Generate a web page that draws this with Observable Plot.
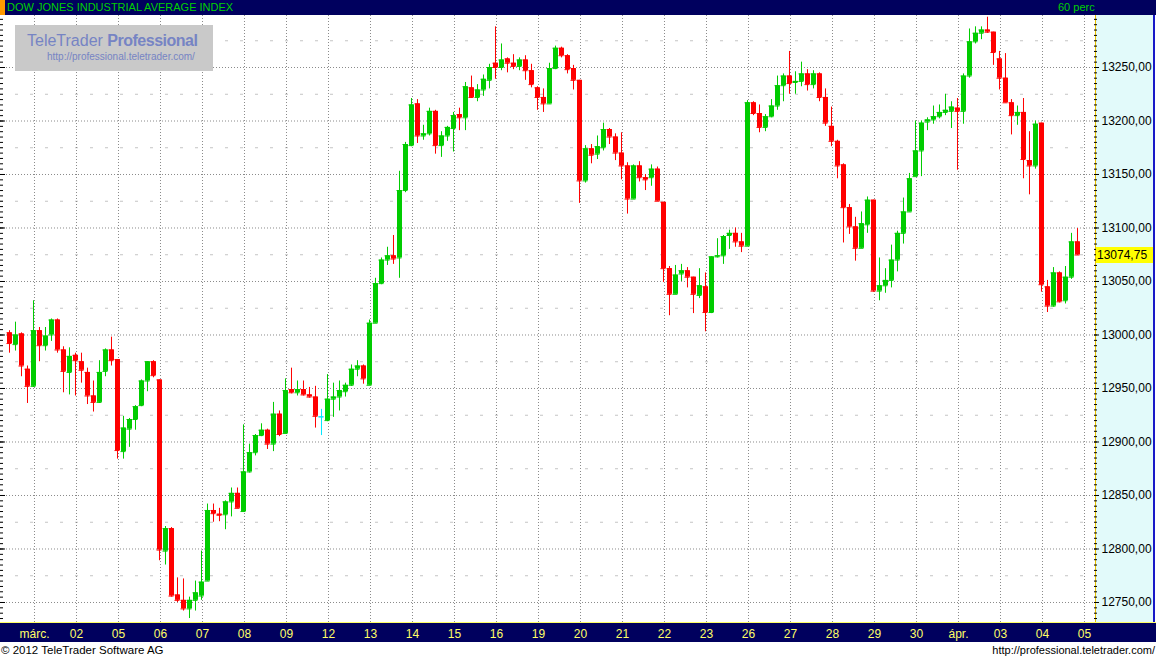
<!DOCTYPE html>
<html>
<head>
<meta charset="utf-8">
<script src="https://cdn.jsdelivr.net/npm/d3@7"></script>
<script src="https://cdn.jsdelivr.net/npm/@observablehq/plot@0.6"></script>
<style>
html, body { margin: 0; padding: 0; background: #ffffff; }
#wrap { position: relative; width: 1156px; height: 659px; overflow: hidden; font-family: "Liberation Sans", Arial, sans-serif; }
#topbar { position: absolute; left: 0; top: 0; width: 1156px; height: 15px; background: #00005e; }
#orange { position: absolute; left: 0; top: 0; width: 5px; height: 15px; background: #ff9900; }
#title { position: absolute; left: 7px; top: 1px; font-size: 11px; line-height: 13px; color: #00d000; white-space: nowrap; }
#period { position: absolute; left: 1058px; top: 1px; font-size: 11px; line-height: 13px; color: #00d000; white-space: nowrap; }
#panel { position: absolute; left: 1095px; top: 15px; width: 57px; height: 607px; background: #e2fafa; border-left: 1px solid #e8c000; border-right: 2px solid #1818c8; }
#band { position: absolute; left: 0; top: 622px; width: 1156px; height: 20px; background: #00005e; border-top: 1px solid #ffff66; box-sizing: border-box; }
#chart { position: absolute; left: 0; top: 15px; }
#logo { position: absolute; left: 15px; top: 25px; width: 198px; height: 46px; background: #c9c9c9; color: #7684c4; z-index: 5; }
#logo .l1 { position: absolute; left: 12px; top: 6px; font-size: 16px; line-height: 19px; white-space: nowrap; }
#logo .l1 b { font-weight: bold; letter-spacing: -0.5px; }
#logo .l2 { position: absolute; left: 32px; top: 26px; font-size: 10px; line-height: 12px; white-space: nowrap; }
#fl { position: absolute; left: 1px; top: 643px; font-size: 11.5px; line-height: 14px; color: #000; white-space: nowrap; }
#fr { position: absolute; right: 1px; top: 643px; font-size: 11px; line-height: 14px; color: #000; white-space: nowrap; }
</style>
</head>
<body>
<div id="wrap">
  <div id="topbar"></div>
  <div id="orange"></div>
  <div id="title">DOW JONES INDUSTRIAL AVERAGE INDEX</div>
  <div id="period">60 perc</div>
  <div id="panel"></div>
  <div id="band"></div>
  <div id="chart"></div>
  <div id="logo"><div class="l1">TeleTrader <b>Professional</b></div><div class="l2">http://professional.teletrader.com/</div></div>
  <div id="fl">© 2012 TeleTrader Software AG</div>
  <div id="fr">http://professional.teletrader.com/</div>
</div>
<script>
// ---- Data: hourly bars (Dow Jones Industrial Average) ----
const open = [
13002,12991,13001,12968,12952, 13004,12990,13000,13014,12986,12965,12981,
12975,12965,12943,12937,12966,12986,12977, 12891,12912,12921,12934,12957,12975,12958,
12798,12819,12757,12752,12744,12752,12756, 12770,12836,12832.5,12832,12844,12852,12835,
12872,12890,12906,12911,12898,12926,12908, 12949,12946,12949,12944,12942,12923.5,12920,
12940,12942,12947,12953,12968,12971,12953, 13011,13048,13070,13074,13072,13135,13177,
13216,13186,13188,13209,13177,13186,13193, 13206,13203,13231,13222,13229,13238,13254,
13250,13258,13254,13251,13257,13247,13231, 13222,13216,13249,13268,13261,13249,13238,
13144,13174,13169,13175,13192,13185,13170, 13158,13127,13158,13147,13147,13155,13124,
13062,13038,13057,13060,13054,13037,13045, 13021,13073,13074,13093,13095,13087,13083,
13217,13207,13194,13204,13214,13233,13242, 13236,13237,13244,13234,13244,13222,13195,
13181,13159,13119,13101,13081,13103,13126, 13041,13046,13051,13070,13095,13115,13148,
13172,13199,13201,13204,13208,13209,13212, 13209,13242,13274,13282,13285,13283,13258,
13240,13217,13205,13208,13163,13158,13198, 13045,13027,13058,13032,13054,13087
];
const high = [
13004,13012,13002,12971,13032, 13007,13007,13015,13015,12989,12988,12983,
12983,12969,12957,12976,12987,12998,12977, 12924,12922,12934,12958,12975,12976,12958,
12821,12820,12773,12772,12755,12770,12798, 12842,12842,12838,12845,12857,12857,12916,
12898,12907,12917,12912,12937,12929,12959, 12969,12957,12957,12951,12952,12930.5,12963,
12955,12957,12955,12972,12976,12972,13014, 13053,13072,13082,13093,13153,13180,13221,
13220,13196,13212,13210,13190,13195,13208, 13212,13236,13242,13234,13243,13253,13288,
13272,13259,13262,13259,13261,13253,13232, 13230,13254,13270,13269,13262,13252,13238,
13177,13178,13186,13198,13193,13188,13189, 13161,13159,13162,13150,13159,13157,13124,
13064,13065,13066,13063,13054,13062,13058, 13073,13090,13093,13098,13100,13095,13219,
13218,13215,13206,13220,13242,13244,13265, 13246,13255,13248,13247,13245,13230,13213,
13182,13160,13122,13110,13115,13129,13126, 13072,13062,13084,13097,13128,13151,13200,
13200,13203,13214,13215,13225,13218,13221, 13244,13286,13288,13288,13297,13283,13265,
13263,13220,13214,13221,13190,13200,13198, 13051,13063,13059,13064,13095,13099.5
];
const low = [
12983,12985,12961,12936,12951, 12975,12985,12994,12983,12946,12944,12943,
12955,12935,12928,12936,12961,12971,12884, 12884,12895,12911,12933,12947,12960,12789,
12785,12755,12750,12742,12735,12742,12752, 12770,12825,12825.5,12818,12830,12838,12835,
12871,12887,12905,12893,12891,12905,12908, 12945,12943,12943,12941,12913,12906,12919,
12923,12929,12942,12952,12961,12954,12953, 13011,13047,13065,13066,13053,13133,13176,
13179,13182,13186,13169,13166,13181,13171, 13191,13191,13221,13218,13223,13230,13239,
13247,13245,13248,13247,13238,13231,13210, 13208,13216,13248,13259,13244,13229,13123,
13142,13160,13164,13172,13178,13163,13145, 13113,13127,13143,13135,13139,13125,13049,
13018,13038,13050,13044,13020,13034,13003, 13020,13072,13066,13080,13082,13077,13083,
13205,13189,13190,13203,13210,13218,13225, 13225,13232,13228,13230,13218,13195,13176,
13146,13086,13094,13069,13081,13095,13040, 13032,13039,13044,13059,13085,13115,13148,
13148,13191,13197,13202,13205,13193,13154, 13197,13240,13272,13276,13282,13252,13229,
13217,13187,13196,13146,13131,13155,13040, 13021,13026,13030,13029,13052,13074.5
];
const close = [
12992,13000,12971,12952,13004, 12990,12999,13014,12986,12966,12980,12976,
12967,12943,12937,12965,12986,12976,12892, 12913,12921,12933,12957,12975,12962,12799,
12819,12756,12752,12744,12752,12759,12769, 12836,12833,12831.5,12844,12852,12838,12872,
12890,12906,12911,12898,12926,12907,12948, 12946,12949,12944,12942,12924,12923.5,12940,
12942,12948,12953,12968,12971,12959,13011, 13048,13070,13074,13071,13135,13178,13215,
13186,13188,13209,13177,13186,13194,13205, 13203,13232,13222,13229,13239,13250,13250,
13257,13254,13251,13257,13247,13234,13222, 13216,13249,13268,13261,13248,13238,13144,
13174,13168,13176,13192,13185,13170,13158, 13127,13158,13147,13145,13155,13125,13062,
13038,13056,13060,13054,13038,13046,13021, 13073,13074,13092,13095,13087,13083,13217,
13207,13194,13204,13214,13233,13242,13235, 13237,13244,13234,13244,13222,13198,13181,
13158,13119,13101,13081,13104,13126,13041, 13046,13051,13070,13095,13115,13146,13172,
13198,13201,13204,13208,13210,13213,13209, 13242,13274,13282,13285,13283,13264,13240,
13217,13205,13208,13164,13158,13197,13047, 13027,13058,13031,13054,13087,13074.75
];
// trading days shown on the time axis (the first 5 bars belong to 29 Feb)
const dayLabels = ["márc.","02","05","06","07","08","09","12","13","14","15","16","19",
                   "20","21","22","23","26","27","28","29","30","ápr.","03","04","05"];
const barsBeforeFirstDay = 5;
const barsPerDay = 7;
// price axis
const priceTicks = d3.range(12750, 13251, 50);
const halfTicks = d3.range(12775, 13276, 50);
const minorTicks = d3.range(12735, 13300, 5);
const lastPrice = close[close.length - 1];

// ---- build table ----
const bars = open.map((o, i) => ({i, o, h: high[i], l: low[i], c: close[i]}));
const col = d => d.c > d.o ? "#00cc00" : d.c < d.o ? "#ff0000" : "#00e8ff";
const dayGrid = dayLabels.map((lab, k) => ({x: barsBeforeFirstDay + k * barsPerDay - 5 / 6, lab}));
const labMap = new Map(dayGrid.map(d => [d.x, d.lab]));
const fmt = v => v.toFixed(2).replace(".", ",");

const chart = Plot.plot({
  width: 1156,
  height: 627,
  marginLeft: 0,
  marginRight: 63,
  marginTop: 0,
  marginBottom: 20,
  style: {background: "transparent", fontFamily: "'Liberation Sans', Arial, sans-serif", fontSize: "12px", overflow: "visible"},
  x: {type: "linear", domain: [-1.5, 180.6667]},
  y: {type: "linear", domain: [12731.3, 13298.6]},
  marks: [
    Plot.ruleY(halfTicks, {y: d => d, stroke: "#c4c4c4", strokeDasharray: "3,12"}),
    Plot.ruleY(priceTicks, {y: d => d, stroke: "#8a8a8a", strokeDasharray: "1,2"}),
    Plot.ruleX(dayGrid, {x: "x", stroke: "#8a8a8a", strokeDasharray: "1,2"}),
    Plot.tickY(minorTicks, {y: d => d, stroke: "#000", insetRight: 1090}),
    Plot.tickY(priceTicks, {y: d => d, stroke: "#000", insetRight: 1088}),
    // wicks
    Plot.ruleX(bars, {x: "i", y1: "l", y2: "h", stroke: col}),
    // bodies
    Plot.ruleX(bars, {x: "i", y1: "o", y2: "c", stroke: col, strokeWidth: 5}),
    Plot.ruleY(bars, {y: "o", x1: d => d.i - 0.4167, x2: d => d.i + 0.4167, stroke: col}),
    Plot.ruleY(bars, {y: "c", x1: d => d.i - 0.4167, x2: d => d.i + 0.4167, stroke: col}),
    // axes
    Plot.axisY({anchor: "right", ticks: minorTicks, tickSize: 3, fill: "none", stroke: "#000", label: null}),
    Plot.axisY({anchor: "right", ticks: priceTicks, tickSize: 5, tickPadding: 3, tickFormat: fmt,
                fill: "#000", stroke: "#000", fontSize: 12, label: null}),
    Plot.axisX({anchor: "bottom", ticks: dayGrid.map(d => d.x), tickSize: 0, tickPadding: 7,
                tickFormat: d => labMap.get(d), fill: "#ffff66", fontSize: 12, label: null})
  ]
});
document.getElementById("chart").appendChild(chart);

// last price marker on the price scale
const ys = chart.scale("y");
const yy = ys.apply(lastPrice) + 0.5;
const svg = d3.select(chart);
svg.append("rect").attr("x", 1096).attr("y", Math.round(yy - 8)).attr("width", 57).attr("height", 16).attr("fill", "#ffff00");
svg.append("text").attr("x", 1097).attr("y", yy).attr("dy", "0.35em").attr("fill", "#000")
   .attr("text-anchor", "start")
   .attr("font-size", 12).attr("font-family", "'Liberation Sans', Arial, sans-serif").text(fmt(lastPrice));
</script>
</body>
</html>
